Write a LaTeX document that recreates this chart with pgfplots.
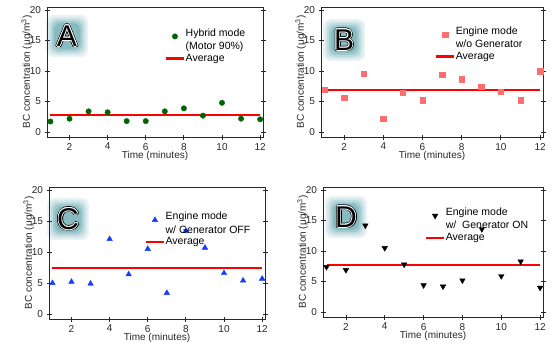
\documentclass[border=0pt]{standalone}
\usepackage{pgfplots}
\pgfplotsset{compat=1.18}
\usepackage{fontspec}
\setmainfont{Liberation Sans}
\definecolor{dgreen}{RGB}{0,100,0}
\definecolor{salmonred}{RGB}{255,110,110}
\definecolor{mblue}{RGB}{20,60,255}
\definecolor{glow}{RGB}{70,150,160}
\definecolor{frm}{RGB}{40,40,40}
\newcommand{\badge}[2]{%
  \begin{scope}[shift={#1}]
    \foreach \s/\o in {21/12,19/22,17/35,15/50,13/65} {
      \fill[glow!\o!white, rounded corners=7pt] (-\s pt,-\s pt) rectangle (\s pt,\s pt);}
    \foreach \a in {0,45,...,315} {\node[text=black, font=\fontsize{30}{30}\selectfont] at (\a:1.6pt) {#2};}
    \foreach \a in {0,45,...,315} {\node[text=white, font=\fontsize{30}{30}\selectfont] at (\a:0.8pt) {#2};}
    \node[text=black, font=\fontsize{30}{30}\selectfont] at (0,0) {#2};
  \end{scope}}
\newcommand{\two}[2]{\begin{tabular}{@{}l@{}}#1\\[2pt]#2\end{tabular}}
\pgfplotsset{
  panel/.style={
    scale only axis, anchor=north west,
    xmin=0.82, xmax=12.15, ymin=-0.8, ymax=20.5,
    xtick={2,4,...,12}, ytick={0,5,...,20},
    xtick pos=bottom, ytick pos=both, tick align=center, major tick length=5pt,
    axis line style={frm, line width=0.8pt}, tick style={frm, line width=0.8pt},
    ticklabel style={font=\fontsize{10}{10}\selectfont, text=frm},
    /pgf/number format/assume math mode=true,
    xlabel={Time (minutes)}, ylabel={BC concentration (μg/m\textsuperscript{3})},
    label style={font=\fontsize{10}{10}\selectfont, text=frm},
    xlabel style={yshift=6pt}, ylabel style={yshift=-9pt},
    legend style={draw=none, fill=none, font=\fontsize{10.5}{11.5}\selectfont, anchor=north west, inner sep=0pt, row sep=5pt},
    legend cell align=left,
  },
  avgline/.style={draw=red, color=red, line width=1.6pt, no markers},
  avgleg/.style={legend image code/.code={\fill[red] (0cm,-0.8pt) rectangle (0.6cm,0.8pt);}},
}
\begin{document}
\begin{tikzpicture}[x=1pt,y=1pt]
\useasboundingbox (0,0) rectangle (553,-343);
\badge{(67,-36)}{A}
\badge{(344,-40)}{B}
\badge{(68,-219)}{C}
\badge{(346,-217)}{D}
% A
\begin{axis}[panel, at={(47pt,-7pt)}, width=216pt, height=130pt,
  legend style={at={(0.551,0.855)}}]
\addplot[avgline, forget plot] coordinates {(1,2.8) (12,2.8)};
\addplot[only marks, mark=*, mark size=2.7pt, color=dgreen] coordinates {
(1,1.74) (2,2.2) (3,3.4) (4,3.25) (5,1.8) (6,1.8) (7,3.4) (8,3.9) (9,2.7) (10,4.8) (11,2.2) (12,2.1)};
\addlegendentry{\two{Hybrid mode}{(Motor 90\%)}}
\addlegendimage{avgleg}
\addlegendentry{Average}
\end{axis}
% B
\begin{axis}[panel, at={(321pt,-7pt)}, width=222pt, height=130pt,
  legend style={at={(0.519,0.868)}}]
\addplot[avgline, forget plot] coordinates {(1,6.95) (12,6.95)};
\addplot[only marks, mark=square*, mark size=2.7pt, color=salmonred] coordinates {
(1,6.95) (2,5.6) (3,9.6) (4,2.15) (5,6.5) (6,5.25) (7,9.45) (8,8.7) (9,7.4) (10,6.6) (11,5.25) (12,9.95)};
\addlegendentry{\two{Engine mode}{w/o Generator}}
\addlegendimage{avgleg}
\addlegendentry{Average}
\end{axis}
% C
\begin{axis}[panel, at={(49pt,-187pt)}, width=216pt, height=132pt,
  legend style={at={(0.449,0.83)}}]
\addplot[avgline, forget plot] coordinates {(1,7.45) (12,7.45)};
\addplot[only marks, mark=triangle*, mark size=3.2pt, color=mblue] coordinates {
(1,5.0) (2,5.2) (3,4.9) (4,12.1) (5,6.4) (6,10.5) (7,3.4) (8,13.4) (9,10.7) (10,6.6) (11,5.4) (12,5.7)};
\addlegendentry{\two{Engine mode}{w/ Generator OFF}}
\addlegendimage{avgleg}
\addlegendentry{Average}
\end{axis}
% D
\begin{axis}[panel, at={(323pt,-187pt)}, width=220pt, height=130pt,
  legend style={at={(0.469,0.86)}}]
\addplot[avgline, forget plot] coordinates {(1,7.7) (12,7.7)};
\addplot[only marks, mark=triangle*, mark size=3.2pt, mark options={rotate=180}, color=black] coordinates {
(1,7.4) (2,6.9) (3,14.2) (4,10.5) (5,7.8) (6,4.4) (7,4.2) (8,5.2) (9,13.6) (10,5.9) (11,8.3) (12,4.0)};
\addlegendentry{\two{Engine mode}{w/\ \ Generator ON}}
\addlegendimage{avgleg}
\addlegendentry{Average}
\end{axis}
\end{tikzpicture}
\end{document}
